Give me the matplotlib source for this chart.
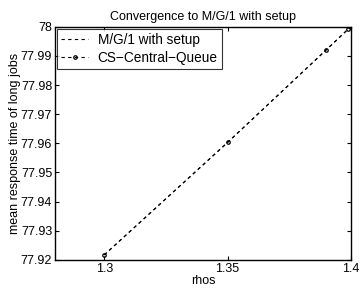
import numpy as np
import matplotlib.pyplot as plt
from matplotlib.ticker import FuncFormatter

plt.rcParams['font.family'] = ['Liberation Sans', 'DejaVu Sans']

rhos = [1.3, 1.35, 1.39, 1.399, 1.3999]
mg1_setup = [77.9217, 77.9603, 77.9921, 77.9993, 78.0]
cs_central = [77.9217, 77.9603, 77.9921, 77.9993, 78.0]

fig = plt.figure(figsize=(3.61, 2.92), dpi=100)
ax = fig.add_axes([0.152, 0.110, 0.820, 0.798])

ax.plot(rhos, mg1_setup, color='k', ls=(0, (3, 3)), lw=0.8, label='M/G/1 with setup')
ax.plot(rhos, cs_central, color='k', ls=(0, (3, 3)), lw=0.8, marker='o', ms=2.5,
        mfc='none', mew=0.9, label='CS\u2212Central\u2212Queue')

ax.set_xlim(1.28, 1.4)
ax.set_ylim(77.92, 78.0)
ax.set_xticks([1.3, 1.35, 1.4])
ax.set_yticks(np.arange(77.92, 78.0001, 0.01))
ax.xaxis.set_major_formatter(FuncFormatter(lambda v, p: '%g' % round(v, 4)))
ax.yaxis.set_major_formatter(FuncFormatter(lambda v, p: '%g' % round(v, 4)))
ax.tick_params(direction='in', top=True, right=True, labelsize=9, length=3, width=0.8, pad=2)
for s in ax.spines.values():
    s.set_linewidth(1.0)

ax.set_title('Convergence to M/G/1 with setup', fontsize=9, pad=5)
ax.set_xlabel('rhos', fontsize=9, labelpad=0)
ax.set_ylabel('mean response time of long jobs', fontsize=9, labelpad=0)

leg = ax.legend(loc='upper left', fontsize=9.8, frameon=True, fancybox=False,
                borderaxespad=0.15, handlelength=2.0, borderpad=0.3, labelspacing=0.3,
                handletextpad=0.7)
leg.get_frame().set_edgecolor('black')
leg.get_frame().set_linewidth(0.8)

fig.savefig('out.png', dpi=100)
